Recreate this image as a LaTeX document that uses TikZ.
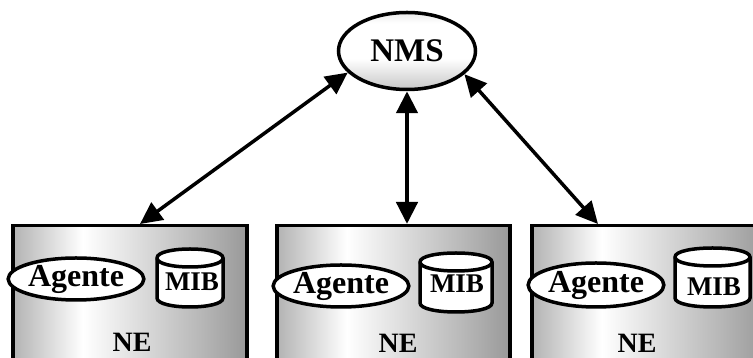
\documentclass[tikz,border=0pt]{standalone}
\usepackage{fontspec}
\setmainfont{Liberation Serif}
\usetikzlibrary{shapes.geometric,arrows.meta}

% grey-white-grey sweep across each network element
\pgfdeclarehorizontalshading{neshade}{100bp}{%
  color(0bp)=(black!68); color(15bp)=(black!50); color(40bp)=(white);
  color(65bp)=(black!28); color(100bp)=(black!70)}
% vertical sweep of the manager ellipse
\pgfdeclareverticalshading{nmsshade}{100bp}{%
  color(0bp)=(black!50); color(25bp)=(black!22); color(45bp)=(white);
  color(68bp)=(white); color(100bp)=(black!38)}

\tikzset{
  nebox/.style={draw=black, line width=3.5pt, shading=neshade, rectangle,
    inner sep=0pt},
  agent/.style={ellipse, draw=black, line width=3.5pt, fill=white, inner sep=0pt,
    minimum width=118pt, minimum height=42pt,
    font=\fontsize{32}{32}\selectfont\bfseries},
  mibtext/.style={inner sep=0pt, font=\fontsize{27}{27}\selectfont\bfseries},
  netext/.style={inner sep=0pt, font=\fontsize{28}{28}\selectfont\bfseries},
  cyl/.style={draw=black, line width=3.5pt, fill=white},
  link/.style={line width=3.5pt, {Triangle[length=22pt,width=21pt]}-{Triangle[length=22pt,width=21pt]}}
}

\newcommand{\mibcyl}[4]{% left x, right x, top y, bottom y
  \draw[cyl] (#1,#3-9) -- (#1,#4+9)
    .. controls (#1,#4-3) and (#2,#4-3) .. (#2,#4+9)
    -- (#2,#3-9)
    .. controls (#2,#3+3) and (#1,#3+3) .. (#1,#3-9) -- cycle;
  \draw[cyl] (#1,#3-9) .. controls (#1,#3-21) and (#2,#3-21) .. (#2,#3-9);
}

\begin{document}
\begin{tikzpicture}[x=1pt,y=1pt]
  \useasboundingbox (0,0) rectangle (753,358);
  \clip (0,0) rectangle (753,358);

  % manager
  \node[ellipse, draw=black, line width=3.5pt, shading=nmsshade, inner sep=0pt,
    minimum width=137pt, minimum height=77pt,
    font=\fontsize{33}{33}\selectfont\bfseries] (nms) at (407,307) {NMS};

  % network elements
  \node[nebox, minimum width=234pt, minimum height=150pt, anchor=north west]
    (box1) at (11,134) {};
  \node[nebox, minimum width=233pt, minimum height=150pt, anchor=north west]
    (box2) at (275,134) {};
  \node[nebox, minimum width=234pt, minimum height=150pt, anchor=north west]
    (box3) at (530,134) {};

  % agents
  \node[agent] (ag1) at (76,79) {Agente};
  \node[agent] (ag2) at (341,72) {Agente};
  \node[agent, minimum height=44pt] (ag3) at (596,73) {Agente};

  % MIB databases
  \mibcyl{157}{223}{109}{51}
  \mibcyl{420}{492}{105}{46}
  \mibcyl{675}{750}{110}{51}
  \node[mibtext] (mib1) at (192,76) {MIB};
  \node[mibtext] (mib2) at (457,74) {MIB};
  \node[mibtext] (mib3) at (714,71) {MIB};

  % element labels
  \node[netext] (ne1) at (132,16) {NE};
  \node[netext] (ne2) at (398,15) {NE};
  \node[netext] (ne3) at (637,15) {NE};

  % management links
  \coordinate (t1) at ([xshift=129pt]box1.north west);
  \coordinate (t2) at ([xshift=132pt]box2.north west);
  \coordinate (t3) at ([xshift=68pt]box3.north west);
  \draw[link] (nms.200) -- (t1);
  \draw[link, line width=4.5pt] (nms.south) -- (t2);
  \draw[link] (nms.338) -- (t3);
\end{tikzpicture}
\end{document}
